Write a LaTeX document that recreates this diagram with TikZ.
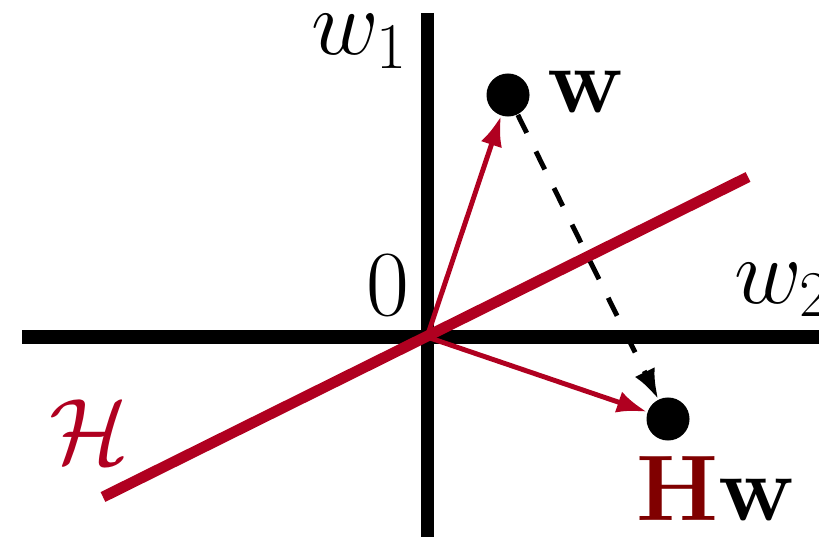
\documentclass[tikz,border=0pt]{standalone}
\usepackage{fix-cm}
\usepackage{amsmath,amssymb}
\usetikzlibrary{arrows.meta,calc,positioning}
\definecolor{hypred}{RGB}{176,0,32}
\definecolor{hwred}{RGB}{128,0,0}

\begin{document}
\begin{tikzpicture}[>={Latex[length=3mm,width=2.2mm]}, x=0.01cm, y=-0.01cm,
  font=\fontsize{26.5}{32}\selectfont,
  axis/.style={line width=3.7pt},
  dot/.style={circle, fill=black, inner sep=0pt, minimum size=0.43cm},
  lbl/.style={anchor=base west, inner sep=0pt},
  vecarrow/.style={->, hypred, line width=1.4pt}]
  \useasboundingbox (0,0) rectangle (819,537);
  \clip (0,0) rectangle (819,537);
  % axes
  \draw[axis] (427,13) -- (427,545);
  \draw[axis] (22,337) -- (830,337);
  \coordinate (O) at (427,337);
  \node[lbl] (l0) at (366,315) {$0$};
  \node[lbl] (lw1) at (311,55) {$w_1$};
  \node[lbl] (lw2) at (734,303) {$w_2$};
  % hyperplane through the origin
  \coordinate (Ha) at (103,497);
  \coordinate (Hb) at (748,177);
  \draw[hypred, line width=3.1pt] (Ha) -- (Hb);
  \node[lbl, hypred] (lH) at (49,463) {$\mathcal{H}$};
  % w and its reflection Hw
  \node[dot] (w) at (508,95) {};
  \node[dot] (Hw) at (668,419) {};
  \draw[vecarrow] (O) -- (w);
  \draw[vecarrow] (O) -- (Hw);
  \draw[->, line width=1.4pt, dash pattern=on 5.7pt off 5.9pt] (w) -- (Hw);
  \node[lbl] (lw) at (547,113) {$\mathbf{w}$};
  \node[lbl] (lHw) at (636,520) {$\textcolor{hwred}{\mathbf{H}}\mathbf{w}$};
\end{tikzpicture}
\end{document}
